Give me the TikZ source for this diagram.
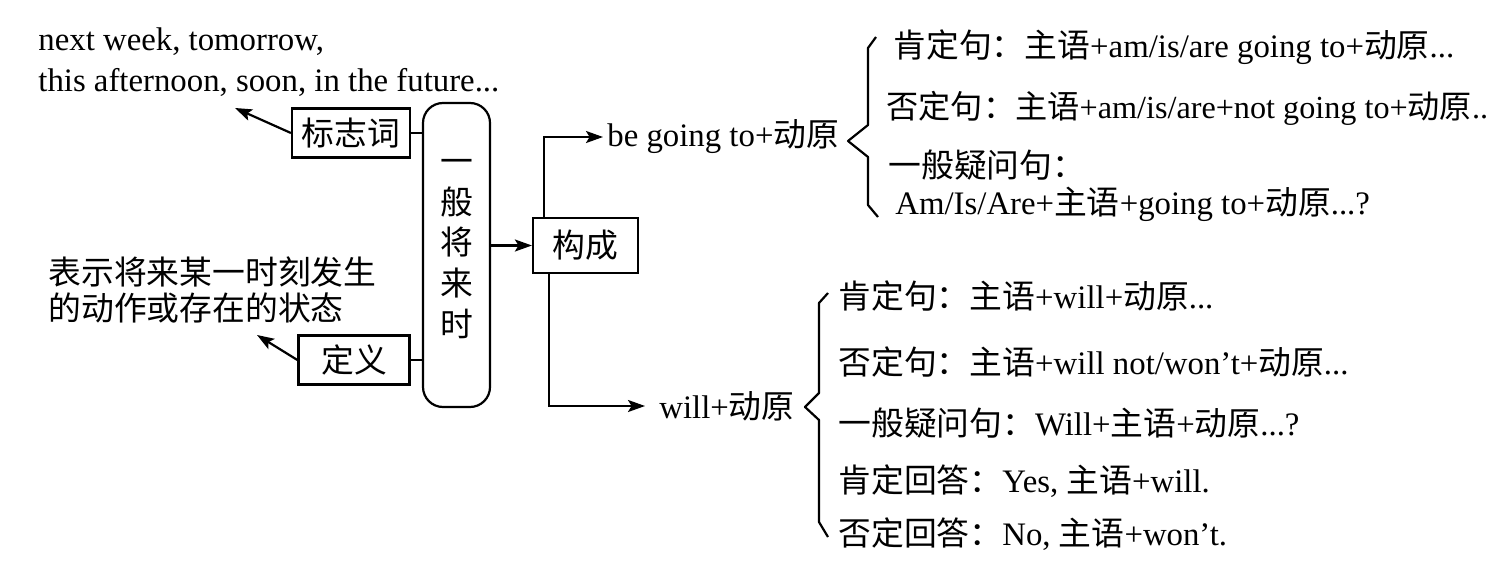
\documentclass[tikz,border=0pt]{standalone}
\usepackage{fontspec}
\setmainfont{Liberation Serif}
\newfontfamily\zhfont{Noto Sans CJK SC}
\newcommand{\zh}[1]{{\zhfont #1}}
\usetikzlibrary{arrows.meta}
\begin{document}
\begin{tikzpicture}[x=0.5pt,y=-0.5pt,
  every node/.style={font=\fontsize{16.4}{20}\selectfont, inner sep=0pt},
  box/.style={draw, line width=1.1pt},
  arr/.style={line width=1.1pt, -{Stealth[length=8.5pt,width=6pt,inset=1.8pt]}},
  ln/.style={line width=1.1pt},
  brace/.style={line width=1.1pt, line join=round},
  txt/.style={anchor=base west}]
\useasboundingbox (0,0) rectangle (1497,567);
% left side
\node[txt] (kw1) at (38,51) {next week, tomorrow,};
\node[txt] (kw2) at (38,91) {this afternoon, soon, in the future...};
\node[box, minimum width=59pt, minimum height=24.5pt] (bz) at (351,133) {\zh{标志词}};
\node[box, minimum width=55.5pt, minimum height=24.5pt] (dy) at (354,360) {\zh{定义}};
\node[txt] (df1) at (48,284) {\zh{表示将来某一时刻发生}};
\node[txt] (df2) at (48,320) {\zh{的动作或存在的状态}};
\node[draw, line width=1.1pt, rounded corners=10pt, minimum width=33.5pt, minimum height=152pt] (rr) at (456.5,255) {};
\node[align=center, font=\fontsize{16.4}{20.4}\selectfont\zhfont] (rrt) at (457,249) {一\\般\\将\\来\\时};
\node[box, minimum width=52.5pt, minimum height=27.5pt] (gc) at (585.5,245.5) {\zh{构成}};
\node[anchor=west, inner xsep=2pt] (bg) at (603,137) {be going to+\zh{动原}};
\node[anchor=west, inner xsep=7pt] (wl) at (645,406) {will+\zh{动原}};
\coordinate (bzt) at (235,108);
\coordinate (dyt) at (257,335);
% connectors
\draw[arr] (bz.west) -- (bzt);
\draw[arr] (dy.west) -- (dyt);
\draw[ln] (bz.east) -- (bz.east -| rr.west);
\draw[ln] (dy.east) -- (dy.east -| rr.west);
\draw[arr] (rr.east |- gc.west) -- (gc.west);
\draw[arr] ([xshift=6pt]gc.north west) |- (bg.west);
\draw[arr] ([xshift=8.5pt]gc.south west) |- (wl.west);
% braces
\draw[brace] (876,37) -- (868,48) -- (868,125) -- (848,141) -- (868,157) -- (868,205) -- (878,217);
\draw[brace] (828,293) -- (819,303) -- (819,393) -- (805,407) -- (819,420) -- (819,522) -- (828,537);
% be going to branch
\node[txt] (p1) at (893,58) {\zh{肯定句：主语}+am/is/are going to+\zh{动原}...};
\node[txt, font=\fontsize{16.1}{20}\selectfont] (p2) at (886,119) {\zh{否定句：主语}+am/is/are+not going to+\zh{动原}..};
\node[txt] (p3) at (888,177) {\zh{一般疑问句：}};
\node[txt] (p4) at (895,214) {Am/Is/Are+\zh{主语}+going to+\zh{动原}...?};
% will branch
\node[txt] (w1) at (838,308) {\zh{肯定句：主语}+will+\zh{动原}...};
\node[txt] (w2) at (838,374) {\zh{否定句：主语}+will not/won’t+\zh{动原}...};
\node[txt] (w3) at (838,435) {\zh{一般疑问句：}Will+\zh{主语}+\zh{动原}...?};
\node[txt] (w4) at (838,492) {\zh{肯定回答：}Yes, \zh{主语}+will.};
\node[txt] (w5) at (838,545) {\zh{否定回答：}No, \zh{主语}+won’t.};
\end{tikzpicture}
\end{document}
